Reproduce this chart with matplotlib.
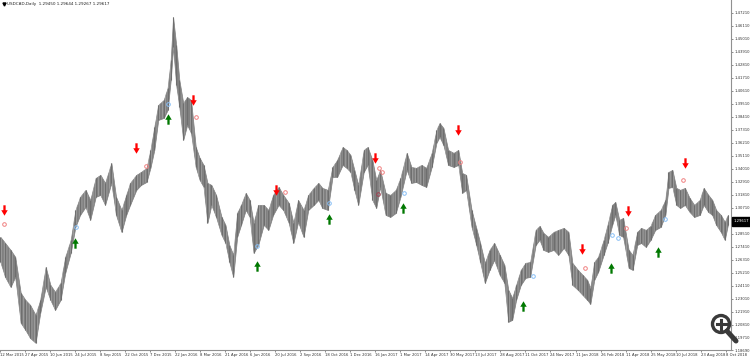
import matplotlib
matplotlib.use("Agg")
import matplotlib.pyplot as plt
from matplotlib.path import Path
from matplotlib.patches import Circle, Rectangle

# header line of the chart window
symbol_line = "USDCAD,Daily  1.29450 1.29644 1.29267 1.29617"
last_price = 1.29617

bar = [0, 6, 13, 19, 26, 32, 38, 45, 51, 58, 64, 70, 77, 83, 90, 96, 102, 109, 115, 122,
       128, 134, 142, 148, 155, 161, 166, 174, 180, 187, 192, 197, 202, 209, 214, 218, 221, 225, 229, 234,
       239, 244, 250, 255, 260, 265, 270, 276, 283, 288, 293, 298, 303, 308, 314, 319, 324, 330, 337, 343,
       349, 356, 362, 369, 375, 381, 388, 394, 401, 407, 412, 419, 425, 431, 438, 443, 448, 453, 458, 465,
       470, 476, 481, 486, 493, 499, 506, 512, 520, 526, 532, 539, 545, 552, 558, 562, 567, 573, 580, 586,
       591, 596, 603, 609, 614, 620, 626, 632, 639, 645, 650, 655, 660, 666, 672, 678, 685, 690, 695, 701,
       708, 714, 721, 727, 732, 739, 745, 751, 755, 760, 765, 772, 777, 783, 787, 792, 797, 804, 809, 815,
       820, 826, 832, 838, 845, 851, 855, 860, 865, 870, 876, 882, 888, 895, 900, 906, 911, 916, 922, 927, 931]
high = [1.2826, 1.2775, 1.2716, 1.2657, 1.2353, 1.2293, 1.2251, 1.2166, 1.2293, 1.2572,
        1.2420, 1.2361, 1.2437, 1.2657, 1.2801, 1.3054, 1.3165, 1.3224, 1.3139, 1.3325,
        1.3351, 1.3283, 1.3452, 1.3165, 1.3054, 1.3181, 1.3283, 1.3351, 1.3376, 1.3410,
        1.3562, 1.3756, 1.3943, 1.3985, 1.4087, 1.4323, 1.4687, 1.4450, 1.4154, 1.3960,
        1.4010, 1.3985, 1.3587, 1.3494, 1.3435, 1.3283, 1.3266, 1.3181, 1.2995, 1.2928,
        1.2758, 1.2674, 1.3029, 1.3097, 1.3198, 1.3139, 1.2945, 1.3097, 1.3097, 1.3054,
        1.3181, 1.3249, 1.3181, 1.3114, 1.2945, 1.3139, 1.3054, 1.3181, 1.3241, 1.3283,
        1.3241, 1.3224, 1.3418, 1.3477, 1.3587, 1.3562, 1.3520, 1.3393, 1.3266, 1.3562,
        1.3587, 1.3477, 1.3308, 1.3393, 1.3198, 1.3181, 1.3224, 1.3325, 1.3537, 1.3418,
        1.3410, 1.3435, 1.3410, 1.3537, 1.3731, 1.3790, 1.3748, 1.3562, 1.3537, 1.3562,
        1.3367, 1.3351, 1.3054, 1.2902, 1.2775, 1.2606, 1.2716, 1.2775, 1.2674, 1.2589,
        1.2378, 1.2310, 1.2420, 1.2547, 1.2606, 1.2614, 1.2885, 1.2919, 1.2860, 1.2826,
        1.2868, 1.2885, 1.2902, 1.2868, 1.2606, 1.2547, 1.2505, 1.2462, 1.2395, 1.2614,
        1.2657, 1.2801, 1.2928, 1.3097, 1.3122, 1.2970, 1.2987, 1.2716, 1.2674, 1.2868,
        1.2902, 1.2885, 1.2919, 1.3012, 1.3054, 1.3139, 1.3376, 1.3393, 1.3241, 1.3224,
        1.3241, 1.3156, 1.3097, 1.3139, 1.3241, 1.3181, 1.3139, 1.3054, 1.3012, 1.2953, 1.3012]
low = [1.2614, 1.2488, 1.2403, 1.2488, 1.2099, 1.2039, 1.1971, 1.1930, 1.2183, 1.2403,
       1.2293, 1.2208, 1.2293, 1.2522, 1.2691, 1.2911, 1.3012, 1.3080, 1.2970, 1.3165,
       1.3181, 1.3097, 1.3283, 1.3012, 1.2868, 1.3012, 1.3097, 1.3224, 1.3266, 1.3291,
       1.3410, 1.3562, 1.3816, 1.3833, 1.3900, 1.4154, 1.4433, 1.4112, 1.3926, 1.3647,
       1.3773, 1.3706, 1.3418, 1.3308, 1.3249, 1.2945, 1.3097, 1.2995, 1.2843, 1.2775,
       1.2614, 1.2488, 1.2826, 1.2928, 1.3054, 1.2995, 1.2691, 1.2758, 1.2928, 1.2885,
       1.3012, 1.3097, 1.3054, 1.2945, 1.2775, 1.2953, 1.2826, 1.3054, 1.3097, 1.3139,
       1.3071, 1.3054, 1.3334, 1.3334, 1.3435, 1.3410, 1.3376, 1.3224, 1.3097, 1.3376,
       1.3435, 1.3139, 1.3071, 1.3249, 1.3012, 1.2995, 1.3029, 1.3165, 1.3393, 1.3283,
       1.3291, 1.3266, 1.3249, 1.3418, 1.3621, 1.3672, 1.3604, 1.3435, 1.3418, 1.3435,
       1.3198, 1.3224, 1.2911, 1.2758, 1.2614, 1.2437, 1.2547, 1.2631, 1.2505, 1.2437,
       1.2107, 1.2124, 1.2293, 1.2420, 1.2479, 1.2488, 1.2758, 1.2801, 1.2716, 1.2699,
       1.2716, 1.2674, 1.2733, 1.2674, 1.2420, 1.2378, 1.2335, 1.2293, 1.2259, 1.2462,
       1.2530, 1.2674, 1.2775, 1.2928, 1.3012, 1.2843, 1.2826, 1.2564, 1.2547, 1.2758,
       1.2775, 1.2741, 1.2801, 1.2885, 1.2911, 1.3012, 1.3241, 1.3249, 1.3097, 1.3071,
       1.3097, 1.3037, 1.2995, 1.3012, 1.3097, 1.3037, 1.3012, 1.2928, 1.2868, 1.2801, 1.2928]

# signals
sell_bar = [4, 173, 247, 353, 479, 585, 744, 803, 876]
sell_price = [1.3054, 1.3579, 1.3985, 1.3224, 1.3494, 1.3731, 1.2724, 1.3046, 1.3452]
buy_bar = [96, 214, 328, 421, 515, 669, 782, 842]
buy_price = [1.2775, 1.3824, 1.2581, 1.2978, 1.3071, 1.2242, 1.2564, 1.2699]
pink_bar = [4, 186, 250, 364, 485, 489, 588, 748, 801, 874]
pink_price = [1.2936, 1.3427, 1.3841, 1.3207, 1.3410, 1.3376, 1.3461, 1.2564, 1.2902, 1.3308]
dark_bar = [483]
dark_price = [1.3190]
blue_bar = [97, 215, 329, 421, 516, 682, 783, 791, 851]
blue_price = [1.2911, 1.3951, 1.2750, 1.3114, 1.3198, 1.2496, 1.2843, 1.2818, 1.2978]

date_labels = ["12 Mar 2015", "27 Apr 2015", "10 Jun 2015", "24 Jul 2015", "8 Sep 2015",
               "22 Oct 2015", "7 Dec 2015", "22 Jan 2016", "8 Mar 2016", "21 Apr 2016",
               "6 Jun 2016", "20 Jul 2016", "2 Sep 2016", "18 Oct 2016", "1 Dec 2016",
               "16 Jan 2017", "1 Mar 2017", "14 Apr 2017", "30 May 2017", "13 Jul 2017",
               "28 Aug 2017", "11 Oct 2017", "24 Nov 2017", "11 Jan 2018", "26 Feb 2018",
               "11 Apr 2018", "25 May 2018", "10 Jul 2018", "23 Aug 2018", "8 Oct 2018"]
bars_per_label = 32

price_ticks = [1.47210, 1.46110, 1.45010, 1.43910, 1.42810, 1.41710, 1.40610, 1.39510,
               1.38410, 1.37310, 1.36210, 1.35110, 1.34010, 1.32910, 1.31810, 1.30710,
               1.28510, 1.27410, 1.26310, 1.25210, 1.24110, 1.23010, 1.21910, 1.20810,
               1.19710, 1.18690]

W, H = 750, 358
fig = plt.figure(figsize=(W / 100, H / 100), dpi=100)
ax = fig.add_axes([0, 1 - 350 / H, 731 / W, 350 / H])

grey = "#808080"
plt.rcParams["hatch.color"] = "#b8b8b8"
plt.rcParams["hatch.linewidth"] = 0.35
ax.fill_between(bar, low, high, facecolor=grey, edgecolor=grey, lw=0.5)
ax.fill_between(bar, low, high, facecolor="none", edgecolor="#b8b8b8", lw=0, hatch="||||||")
ax.vlines(bar, low, high, color="#6e6e6e", lw=0.8)

down = Path([(-0.22, 1), (0.22, 1), (0.22, 0.05), (0.62, 0.05), (0, -1),
             (-0.62, 0.05), (-0.22, 0.05), (-0.22, 1)], closed=True)
up = Path([(x, -y) for x, y in down.vertices], closed=True)
ax.plot(sell_bar, sell_price, ls="none", marker=down, ms=7.5, color="#ff0000", mew=0)
ax.plot(buy_bar, buy_price, ls="none", marker=up, ms=7.5, color="#007800", mew=0)
ax.plot(pink_bar, pink_price, ls="none", marker="o", ms=2.6, mfc="none", mec="#f08080", mew=0.7)
ax.plot(dark_bar, dark_price, ls="none", marker="o", ms=2.6, mfc="none", mec="#a04050", mew=0.7)
ax.plot(blue_bar, blue_price, ls="none", marker="o", ms=2.6, mfc="none", mec="#87bef5", mew=0.7)

ax.set_xlim(-0.5, 935)
ax.set_ylim(1.1870, 1.4831)

for s in ["top", "left"]:
    ax.spines[s].set_visible(False)
for s in ["right", "bottom"]:
    ax.spines[s].set_color("#909090")
    ax.spines[s].set_linewidth(0.8)

ax.yaxis.tick_right()
ax.set_yticks(price_ticks)
ax.set_yticklabels([f"{p:.5f}" for p in price_ticks])
ax.set_xticks([i * bars_per_label for i in range(len(date_labels))])
ax.set_xticklabels(date_labels, ha="left")
ax.tick_params(axis="both", labelsize=2.7, length=1.5, width=0.5, color="#606060",
               labelcolor="#303030", pad=0.8)

# overlay in pixel units for window furniture
ov = fig.add_axes([0, 0, 1, 1], zorder=5)
ov.set_xlim(0, W)
ov.set_ylim(H, 0)
ov.axis("off")
ov.patch.set_alpha(0)

ov.plot([3.5], [4], marker="v", ms=2.2, color="black")
ov.text(7, 4, symbol_line, fontsize=3.0, va="center", ha="left", color="#202020")

ov.add_patch(Rectangle((732, 216.5), 18, 9, color="black"))
ov.text(741, 221, f"{last_price:.5f}", fontsize=2.7, color="white", ha="center", va="center")

icon = "#3a3a3a"
ov.plot([727, 736], [331, 341], color=icon, lw=3.6, solid_capstyle="round")
ov.add_patch(Circle((721, 324), 8.5, facecolor="white", edgecolor=icon, lw=2.4))
ov.plot([716.5, 725.5], [324, 324], color=icon, lw=2.2)
ov.plot([721, 721], [319.5, 328.5], color=icon, lw=2.2)

fig.savefig("out.png", dpi=100)
